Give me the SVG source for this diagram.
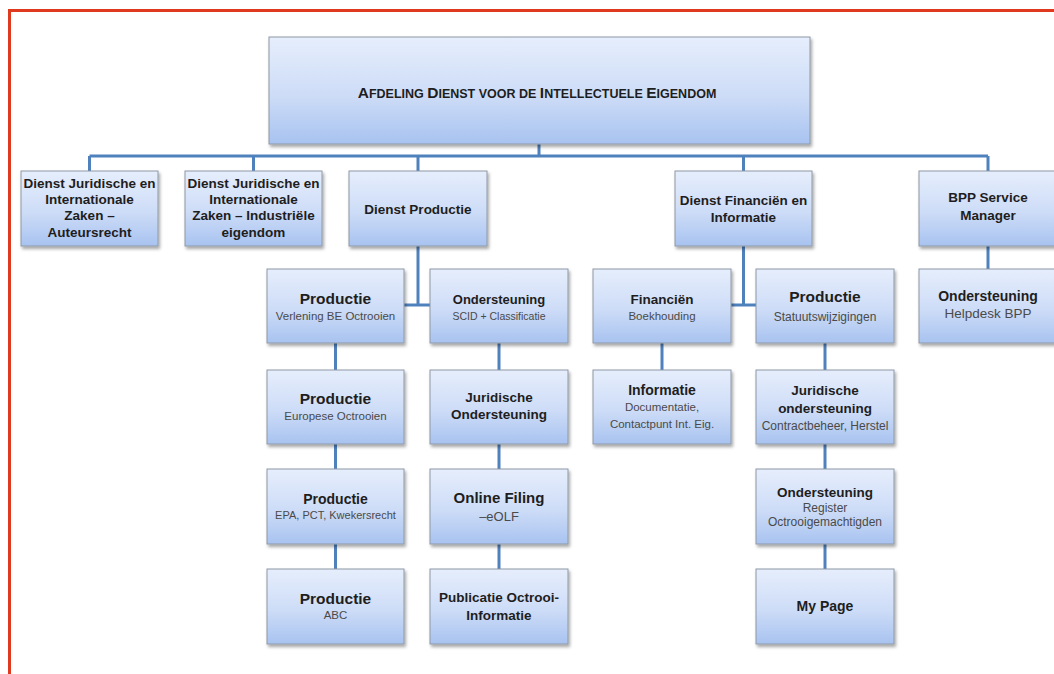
<svg xmlns="http://www.w3.org/2000/svg" width="1054" height="674" viewBox="0 0 1054 674">
<defs>
<linearGradient id="boxg" x1="0" y1="0" x2="0" y2="1">
<stop offset="0" stop-color="#e6eefc"/>
<stop offset="0.55" stop-color="#cddcf7"/>
<stop offset="1" stop-color="#a8c3f0"/>
</linearGradient>
<filter id="sh" x="-10%" y="-10%" width="125%" height="130%">
<feDropShadow dx="1.5" dy="2.5" stdDeviation="1.5" flood-color="#000" flood-opacity="0.35"/>
</filter>
</defs>
<style>
.box{fill:url(#boxg);stroke:#8e98a6;stroke-width:1;filter:url(#sh)}
.con{fill:none;stroke:#4f81bd;stroke-width:3}
text{font-family:"Liberation Sans",Arial,sans-serif;text-anchor:middle}
.b{font-weight:bold;fill:#1e1e1e}
.s{fill:#4a4a4a}
</style>
<rect x="0" y="0" width="1054" height="674" fill="#ffffff"/>
<rect x="9.5" y="10.5" width="1100" height="700" fill="none" stroke="#df3a1f" stroke-width="3"/>

<g id="connectors">
<path class="con" d="M539 144V156M89.5 156H988M89.5 156V171M253.5 156V171M418 156V171M743.5 156V171M988 156V171"/>
<path class="con" d="M418 246V305M404 305H430M743.5 246V305M731 305H756M988 246V269"/>
<path class="con" d="M335.5 343V370M335.5 444V469M335.5 544V569M499 343V370M499 444V469M499 544V569M662 343V370M825 343V370M825 444V469M825 544V569"/>
</g>

<g id="n-top">
<rect class="box" x="269" y="37" width="541" height="107"/>
<text class="b" x="537" y="98"><tspan font-size="15.5">A</tspan><tspan font-size="12.5">FDELING </tspan><tspan font-size="15.5">D</tspan><tspan font-size="12.5">IENST VOOR DE </tspan><tspan font-size="15.5">I</tspan><tspan font-size="12.5">NTELLECTUELE </tspan><tspan font-size="15.5">E</tspan><tspan font-size="12.5">IGENDOM</tspan></text>
</g>

<g id="n-jur-auteur">
<rect class="box" x="21" y="171" width="137" height="75"/>
<text class="b" font-size="13.5"><tspan x="89.5" y="188">Dienst Juridische en</tspan><tspan x="89.5" y="204">Internationale</tspan><tspan x="89.5" y="220">Zaken –</tspan><tspan x="89.5" y="237">Auteursrecht</tspan></text>
</g>
<g id="n-jur-ind">
<rect class="box" x="185" y="171" width="137" height="75"/>
<text class="b" font-size="13.5"><tspan x="253.5" y="188">Dienst Juridische en</tspan><tspan x="253.5" y="204">Internationale</tspan><tspan x="253.5" y="220">Zaken – Industriële</tspan><tspan x="253.5" y="237">eigendom</tspan></text>
</g>
<g id="n-dienst-productie">
<rect class="box" x="349" y="171" width="138" height="75"/>
<text class="b" font-size="13.5" x="418" y="214">Dienst Productie</text>
</g>
<g id="n-dienst-fin">
<rect class="box" x="675" y="171" width="137" height="75"/>
<text class="b" font-size="13.5"><tspan x="743.5" y="205">Dienst Financiën en</tspan><tspan x="743.5" y="222">Informatie</tspan></text>
</g>
<g id="n-bpp">
<rect class="box" x="919" y="171" width="138" height="75"/>
<text class="b" font-size="13.5"><tspan x="988" y="202">BPP Service</tspan><tspan x="988" y="220">Manager</tspan></text>
</g>

<g id="n-prod-verlening">
<rect class="box" x="267" y="269" width="137" height="74"/>
<text class="b" font-size="15.5" x="335.5" y="304">Productie</text>
<text class="s" font-size="11.5" x="335.5" y="320">Verlening BE Octrooien</text>
</g>
<g id="n-ond-scid">
<rect class="box" x="430" y="269" width="138" height="74"/>
<text class="b" font-size="13" x="499" y="303.5">Ondersteuning</text>
<text class="s" font-size="10.5" x="499" y="320">SCID + Classificatie</text>
</g>
<g id="n-financien">
<rect class="box" x="593" y="269" width="138" height="74"/>
<text class="b" font-size="13.5" x="662" y="303.5">Financiën</text>
<text class="s" font-size="11.5" x="662" y="320">Boekhouding</text>
</g>
<g id="n-prod-statuut">
<rect class="box" x="756" y="269" width="138" height="74"/>
<text class="b" font-size="15.5" x="825" y="301.5">Productie</text>
<text class="s" font-size="12" x="825" y="321">Statuutswijzigingen</text>
</g>
<g id="n-ond-helpdesk">
<rect class="box" x="919" y="269" width="138" height="74"/>
<text class="b" font-size="14" x="988" y="301">Ondersteuning</text>
<text class="s" font-size="13.5" x="988" y="318">Helpdesk BPP</text>
</g>

<g id="n-prod-europese">
<rect class="box" x="267" y="370" width="137" height="74"/>
<text class="b" font-size="15.5" x="335.5" y="403.5">Productie</text>
<text class="s" font-size="11.5" x="335.5" y="420">Europese Octrooien</text>
</g>
<g id="n-jur-ond">
<rect class="box" x="430" y="370" width="138" height="74"/>
<text class="b" font-size="13.5"><tspan x="499" y="402">Juridische</tspan><tspan x="499" y="419">Ondersteuning</tspan></text>
</g>
<g id="n-informatie">
<rect class="box" x="593" y="370" width="138" height="74"/>
<text class="b" font-size="14" x="662" y="395">Informatie</text>
<text class="s" font-size="11.5"><tspan x="662" y="411">Documentatie,</tspan><tspan x="662" y="428">Contactpunt Int. Eig.</tspan></text>
</g>
<g id="n-jur-ond2">
<rect class="box" x="756" y="370" width="138" height="74"/>
<text class="b" font-size="13.5"><tspan x="825" y="395">Juridische</tspan><tspan x="825" y="413">ondersteuning</tspan></text>
<text class="s" font-size="12" x="825" y="430">Contractbeheer, Herstel</text>
</g>

<g id="n-prod-epa">
<rect class="box" x="267" y="469" width="137" height="75"/>
<text class="b" font-size="14" x="335.5" y="504">Productie</text>
<text class="s" font-size="11" x="335.5" y="519">EPA, PCT, Kwekersrecht</text>
</g>
<g id="n-online">
<rect class="box" x="430" y="469" width="138" height="75"/>
<text class="b" font-size="15" x="499" y="503">Online Filing</text>
<text class="s" font-size="13" x="499" y="521">–eOLF</text>
</g>
<g id="n-ond-register">
<rect class="box" x="756" y="469" width="138" height="75"/>
<text class="b" font-size="13.5" x="825" y="497">Ondersteuning</text>
<text class="s" font-size="12"><tspan x="825" y="512">Register</tspan><tspan x="825" y="526">Octrooigemachtigden</tspan></text>
</g>

<g id="n-prod-abc">
<rect class="box" x="267" y="569" width="137" height="75"/>
<text class="b" font-size="15.5" x="335.5" y="603.5">Productie</text>
<text class="s" font-size="11.5" x="335.5" y="619">ABC</text>
</g>
<g id="n-publicatie">
<rect class="box" x="430" y="569" width="138" height="75"/>
<text class="b" font-size="13.5"><tspan x="499" y="602">Publicatie Octrooi-</tspan><tspan x="499" y="620">Informatie</tspan></text>
</g>
<g id="n-mypage">
<rect class="box" x="756" y="569" width="138" height="75"/>
<text class="b" font-size="14" x="825" y="611">My Page</text>
</g>
</svg>
